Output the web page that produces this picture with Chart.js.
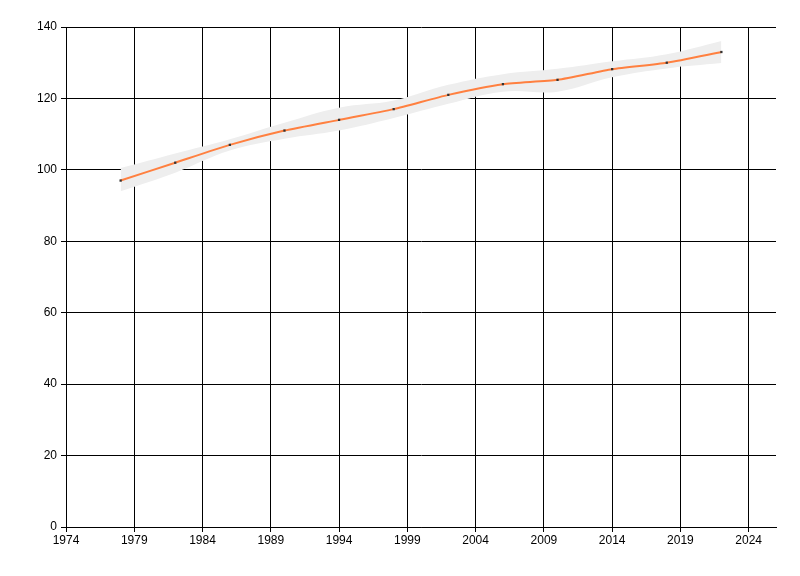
<!DOCTYPE html>
<html lang="en">
<head>
  <meta charset="UTF-8">
  <title>Trend with band</title>
  <script src="https://cdn.jsdelivr.net/npm/chart.js"></script>
  <style>
    html, body { margin: 0; padding: 0; background: #fff; }
    #wrap { width: 800px; height: 576px; }
  </style>
</head>
<body>
  <div id="wrap"><canvas id="myChart" width="800" height="576"></canvas></div>

  <script>
    // values
    const years = [1978, 1982, 1986, 1990, 1994, 1998, 2002, 2006, 2010, 2014, 2018, 2022];
    const values = [97, 102, 107, 111, 114, 117, 121, 124, 125.2, 128.2, 130, 133];
    const upper = [100.5, 104.6, 108.6, 113.2, 117.4, 119.4, 123.8, 126.8, 128.3, 130.4, 132.4, 136.1];
    const lower = [94, 99.2, 105.4, 108.7, 111, 114.5, 118.5, 121.9, 121.9, 125.9, 128.4, 129.9];
    const xTicks = [1974, 1979, 1984, 1989, 1994, 1999, 2004, 2009, 2014, 2019, 2024];
    const yTicks = [0, 20, 40, 60, 80, 100, 120, 140];

    const pts = arr => years.map((y, i) => ({ x: y, y: arr[i] }));

    const ctx = document.getElementById('myChart').getContext('2d');
    const myChart = new Chart(ctx, {
      type: 'line',
      data: {
        datasets: [
          {
            data: pts(upper),
            order: 2,
            borderWidth: 0,
            pointRadius: 0,
            tension: 0.4,
            fill: false
          },
          {
            data: pts(lower),
            order: 1,
            borderWidth: 0,
            pointRadius: 0,
            tension: 0.4,
            backgroundColor: '#eeeeee',
            fill: '-1'
          },
          {
            // the trend line goes on top of the band
            data: pts(values),
            order: 0,
            borderColor: 'rgb(255, 128, 64)',
            borderWidth: 2,
            tension: 0.2,
            pointStyle: 'rect',
            pointRadius: 1.6,
            pointBackgroundColor: '#333',
            pointBorderWidth: 0,
            fill: false
          }
        ]
      },
      options: {
        responsive: false,
        animation: false,
        layout: { padding: { left: 0, right: 24, top: 27, bottom: 0 } },
        plugins: { legend: { display: false }, tooltip: { enabled: false } },
        scales: {
          x: {
            type: 'linear',
            min: 1974,
            max: 2026,
            afterBuildTicks: s => { s.ticks = xTicks.map(v => ({ value: v })); },
            afterFit: s => { s.height = 49; },
            grid: { color: '#000', lineWidth: 1, tickLength: 5 },
            border: { color: '#000', width: 1 },
            ticks: {
              color: '#000',
              padding: 1,
              maxRotation: 0,
              font: { family: 'Liberation Sans', size: 12 },
              callback: v => String(v)
            }
          },
          y: {
            min: 0,
            max: 140,
            afterBuildTicks: s => { s.ticks = yTicks.map(v => ({ value: v })); },
            afterFit: s => { s.width = 66; },
            grid: { color: '#000', lineWidth: 1, tickLength: 5 },
            border: { color: '#000', width: 1 },
            ticks: {
              color: '#000',
              padding: 4,
              font: { family: 'Liberation Sans', size: 12 }
            }
          }
        }
      }
    });
  </script>
</body>
</html>
